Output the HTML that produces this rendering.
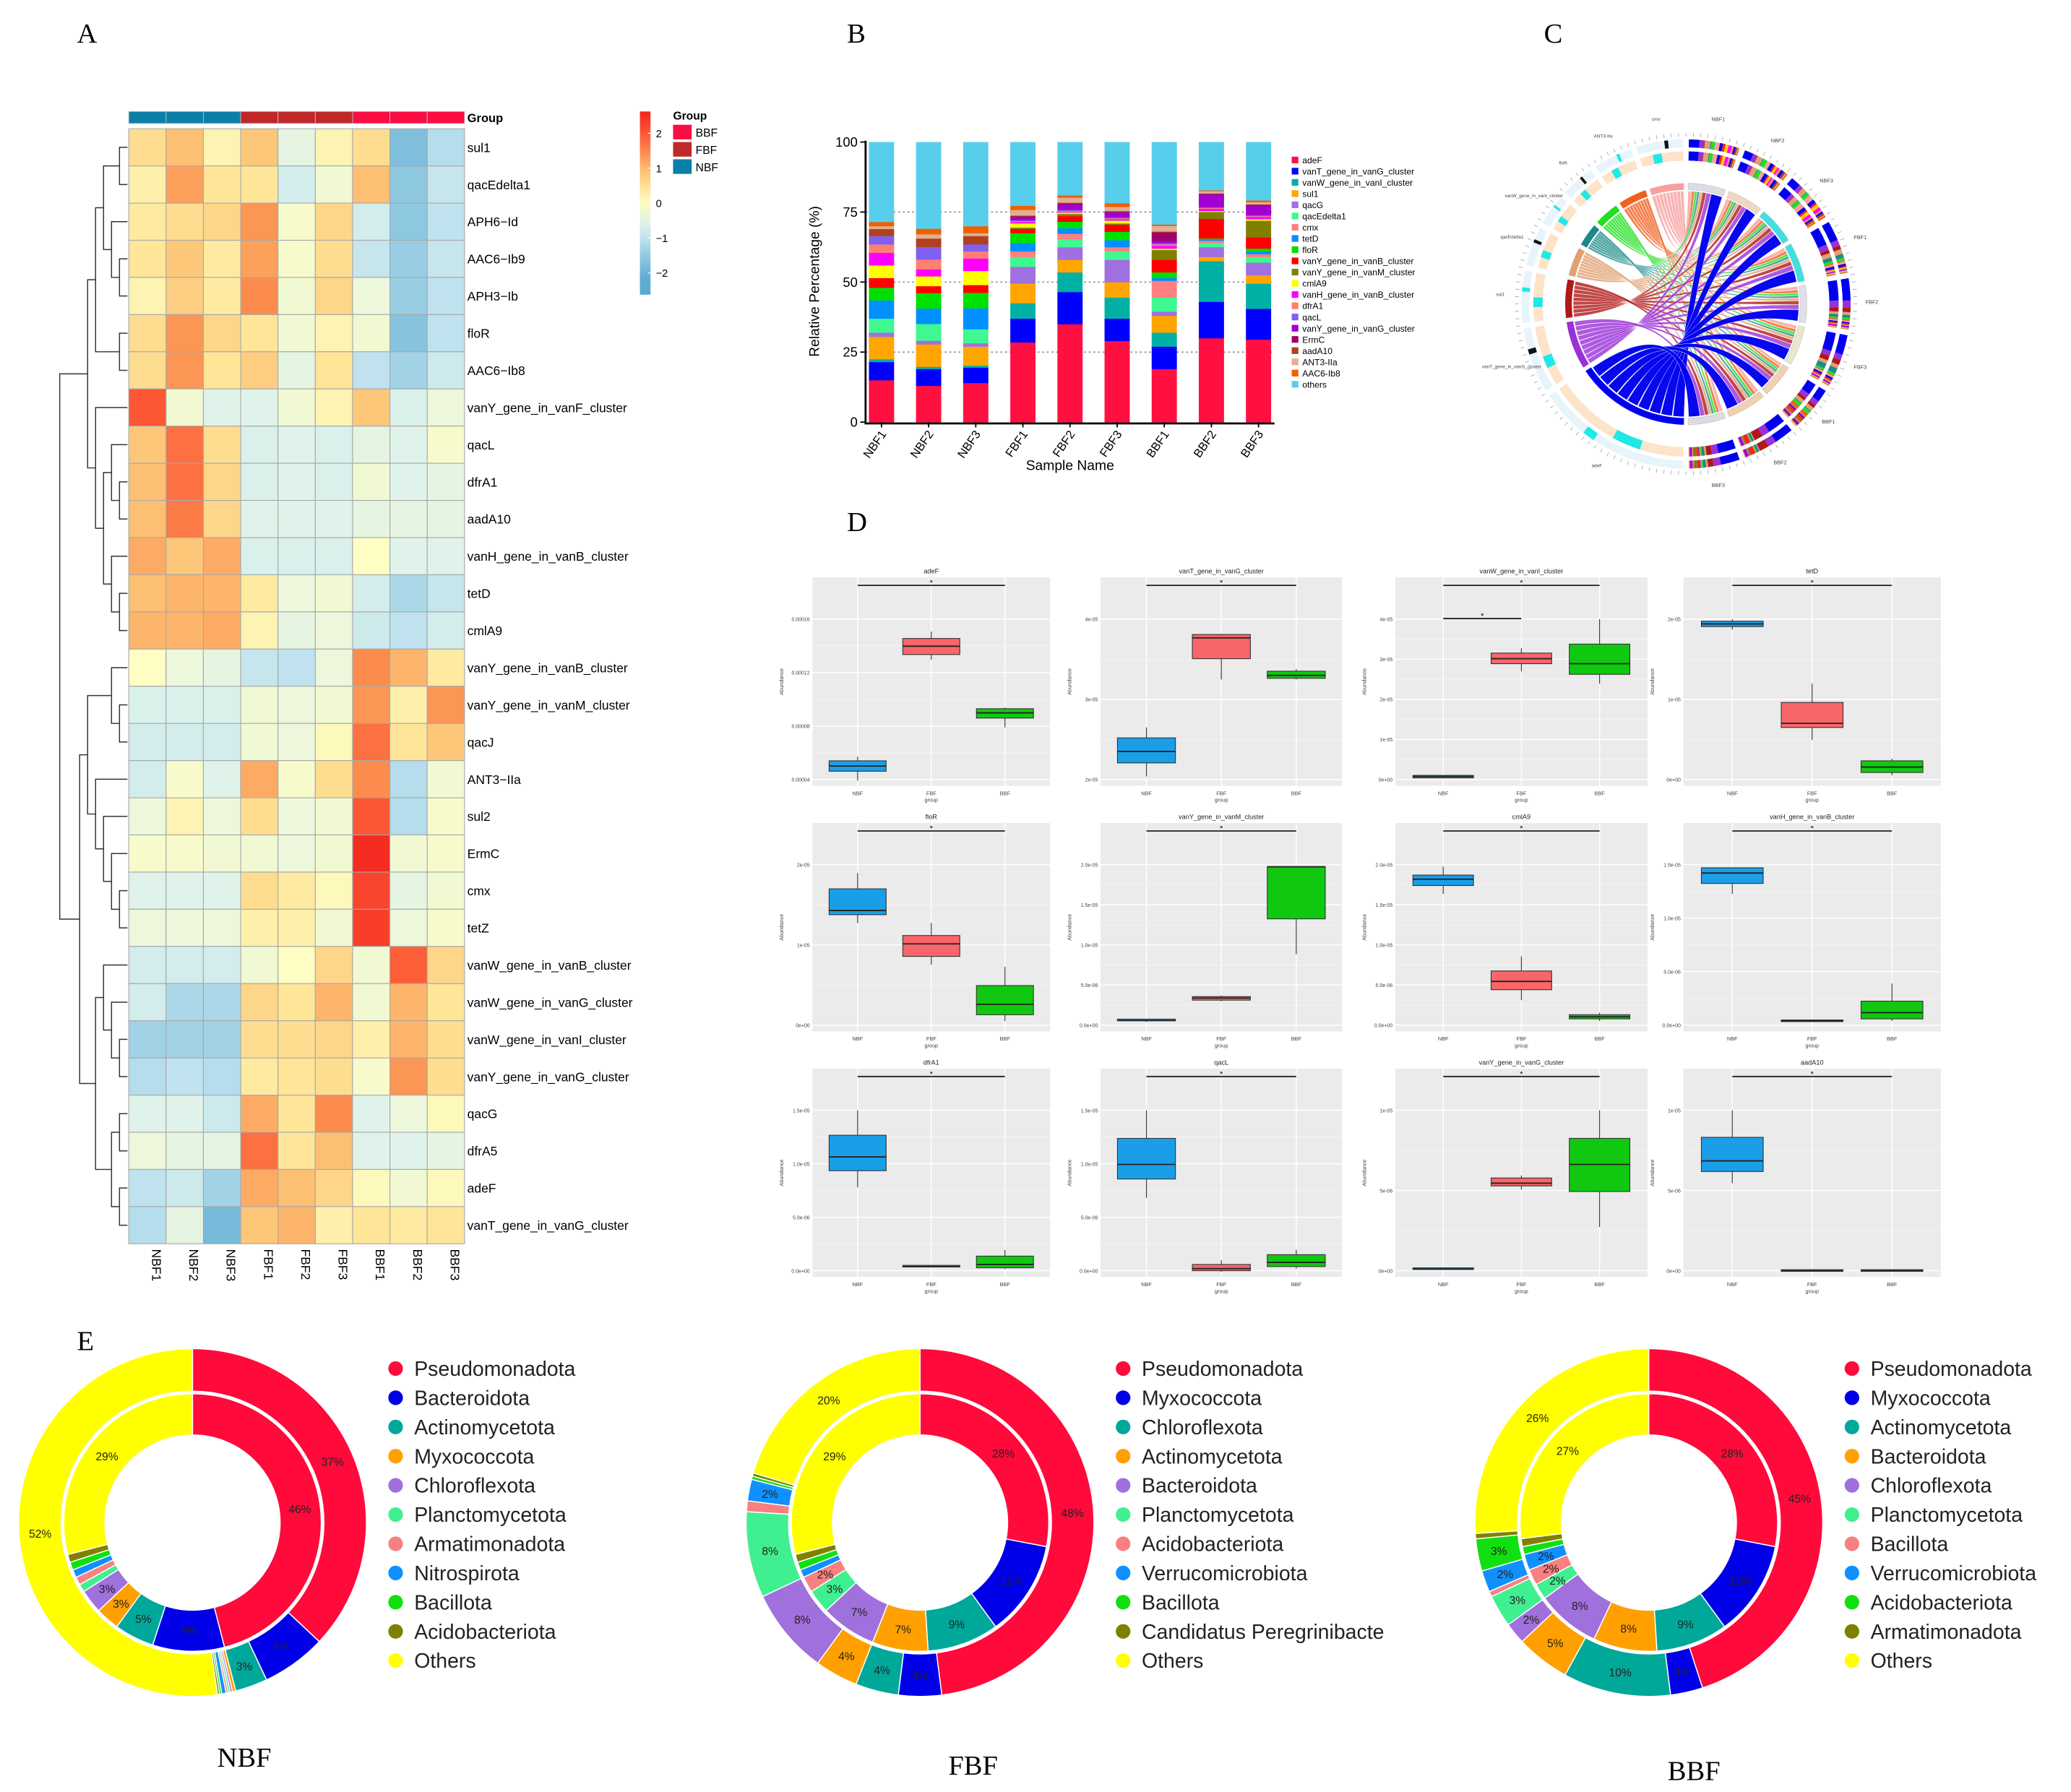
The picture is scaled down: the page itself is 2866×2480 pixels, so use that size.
<!DOCTYPE html>
<html><head><meta charset="utf-8"><title>ARG figure</title>
<style>
html,body{margin:0;padding:0;background:#fff;}
svg{display:block;font-family:"Liberation Sans",sans-serif;}
</style></head>
<body>
<svg id="fig" xmlns="http://www.w3.org/2000/svg" width="2866" height="2480" viewBox="0 0 1560 1350" preserveAspectRatio="none">
<rect x="0" y="0" width="1560" height="1350" fill="#fff"/>
<text x="58" y="32" font-family="Liberation Serif,serif" font-size="21">A</text>
<text x="638" y="32" font-family="Liberation Serif,serif" font-size="21">B</text>
<text x="1163" y="32" font-family="Liberation Serif,serif" font-size="21">C</text>
<text x="638" y="400" font-family="Liberation Serif,serif" font-size="21">D</text>
<text x="58" y="1017" font-family="Liberation Serif,serif" font-size="21">E</text>
<text x="184" y="1331" text-anchor="middle" font-family="Liberation Serif,serif" font-size="21">NBF</text>
<text x="733" y="1337" text-anchor="middle" font-family="Liberation Serif,serif" font-size="21">FBF</text>
<text x="1276" y="1341" text-anchor="middle" font-family="Liberation Serif,serif" font-size="21">BBF</text>
</svg>
<script>
// ===== Panel A heatmap data =====
const hmSamples = ["NBF1","NBF2","NBF3","FBF1","FBF2","FBF3","BBF1","BBF2","BBF3"];
const hmGroups = ["NBF","NBF","NBF","FBF","FBF","FBF","BBF","BBF","BBF"];
const hmGenes = ["sul1","qacEdelta1","APH6\u2212Id","AAC6\u2212Ib9","APH3\u2212Ib","floR","AAC6\u2212Ib8","vanY_gene_in_vanF_cluster","qacL","dfrA1","aadA10","vanH_gene_in_vanB_cluster","tetD","cmlA9","vanY_gene_in_vanB_cluster","vanY_gene_in_vanM_cluster","qacJ","ANT3\u2212IIa","sul2","ErmC","cmx","tetZ","vanW_gene_in_vanB_cluster","vanW_gene_in_vanG_cluster","vanW_gene_in_vanI_cluster","vanY_gene_in_vanG_cluster","qacG","dfrA5","adeF","vanT_gene_in_vanG_cluster"];
const hmValues = [
[0.6,1.0,0.2,0.9,-0.4,0.2,0.6,-1.7,-1.1],
[0.3,1.3,0.5,0.5,-0.7,-0.2,1.0,-1.5,-0.9],
[0.4,0.6,0.7,1.4,-0.1,0.7,-0.7,-1.5,-1.0],
[0.5,0.9,0.4,1.3,-0.1,0.6,-0.9,-1.4,-0.9],
[0.2,0.8,0.4,1.5,-0.2,0.7,-0.3,-1.4,-1.0],
[0.6,1.4,0.7,0.5,-0.2,0.2,-0.2,-1.6,-1.0],
[0.6,1.4,0.5,0.8,-0.4,0.5,-1.0,-1.3,-0.8],
[2.1,-0.2,-0.5,-0.5,-0.2,0.2,0.9,-0.6,-0.3],
[0.9,1.8,0.6,-0.6,-0.5,-0.6,-0.4,-0.5,-0.1],
[1.0,1.8,0.7,-0.6,-0.5,-0.6,-0.2,-0.5,-0.4],
[1.0,1.7,0.7,-0.5,-0.5,-0.5,-0.4,-0.4,-0.4],
[1.2,0.9,1.2,-0.6,-0.6,-0.6,0.0,-0.5,-0.5],
[1.0,1.1,1.1,0.4,-0.3,-0.2,-0.7,-1.2,-0.9],
[1.1,1.1,1.2,0.2,-0.4,-0.3,-0.8,-1.0,-0.7],
[0.0,-0.3,-0.4,-0.9,-1.0,-0.3,1.5,1.1,0.4],
[-0.6,-0.6,-0.6,-0.2,-0.3,-0.2,1.4,0.3,1.4],
[-0.7,-0.7,-0.7,-0.2,-0.3,0.1,1.8,0.5,0.9],
[-0.7,-0.1,-0.5,1.2,-0.1,0.6,1.5,-1.1,-0.2],
[-0.3,0.2,-0.3,0.6,-0.3,-0.2,2.1,-1.1,-0.1],
[-0.1,-0.1,-0.2,-0.2,-0.3,-0.2,2.6,-0.2,-0.1],
[-0.5,-0.5,-0.5,0.6,0.4,0.1,2.3,-0.4,-0.2],
[-0.3,-0.3,-0.3,0.3,0.3,-0.2,2.4,-0.3,-0.1],
[-0.7,-0.7,-0.7,-0.2,0.0,0.7,-0.2,2.0,0.7],
[-0.7,-1.2,-1.2,0.7,0.5,1.1,-0.2,1.1,0.5],
[-1.3,-1.3,-1.3,0.6,0.6,0.7,0.3,1.1,0.6],
[-1.1,-1.0,-1.1,0.4,0.5,0.6,-0.1,1.4,0.6],
[-0.5,-0.5,-0.8,1.2,0.5,1.5,-0.5,-0.3,0.1],
[-0.3,-0.4,-0.4,1.8,0.5,1.0,-0.5,-0.5,-0.4],
[-1.0,-0.8,-1.3,1.2,1.0,0.7,0.1,-0.2,0.1],
[-1.1,-0.4,-1.8,0.9,1.1,0.3,0.5,0.4,0.5]];
const hmTree = [[[[0,1],[2,[3,4]]],[5,6]],[7,[[8,[9,10]],[11,[12,13]]]]];
const hmTree2 = [[[14,[15,16]],[17,[18,[19,[20,21]]]]],[[22,[23,[24,25]]],[[26,27],[28,29]]]];
const hmScaleTicks = [2,1,0,-1,-2];

// ===== Panel B stacked bar data =====
const bSamples = ["NBF1","NBF2","NBF3","FBF1","FBF2","FBF3","BBF1","BBF2","BBF3"];
const bCats = ["adeF","vanT_gene_in_vanG_cluster","vanW_gene_in_vanI_cluster","sul1","qacG","qacEdelta1","cmx","tetD","floR","vanY_gene_in_vanB_cluster","vanY_gene_in_vanM_cluster","cmlA9","vanH_gene_in_vanB_cluster","dfrA1","qacL","vanY_gene_in_vanG_cluster","ErmC","aadA10","ANT3-IIa","AAC6-Ib8","others"];
const bColors = ["#ff1040","#0000ff","#00b0a4","#ffa500","#a070e0","#40f890","#ff8080","#0090ff","#00e000","#ff0000","#808000","#ffff00","#ff00ff","#ff8070","#8060f0","#a000d0","#a0006a","#b04020","#e0b090","#f06000","#57cfec"];
const bNBF1 = [15,6.5,1,8,1.5,5,0,6.5,4.5,3.5,0,4.5,4.5,3,3,0,0,2.5,1,1.5];
const bNBF2 = [13,6,0.8,8,1.3,6,0,5.5,5.5,2.5,0,3.5,2.5,3.5,4.5,0,0,3,1.5,2];
const bNBF3 = [14,5.5,0.7,6.8,1.2,5,0,7.5,5.5,2.8,0,5,4.5,2.5,2.5,0,0,3,1,2.5];
const bFBF1 = [28.5,8.5,5.5,7,6,3.5,2,3,3.5,1.5,0.5,1.5,0.5,0.3,0.3,1.2,0.2,0.3,2,1.5];
const bFBF2 = [35,11.5,7,4.5,4.5,2.8,2,2,2.3,2,0.8,0.5,0.3,0.3,0.3,2,0.3,0.3,1.8,0.8];
const bFBF3 = [29,8,7.5,5.5,8,3,1.5,2.5,3,2.5,0.5,1,0.5,0.3,0.3,1.8,0.2,0.3,1.5,1.3];
const bBBF1 = [19,8,5,6,1.5,5,6,1,2,4.5,3.5,0.5,1,0.5,0.5,0.8,3,0.3,2,0.5];
const bBBF2 = [30,13,14.5,1.5,3.5,1.5,0.8,0.5,0.3,7,2.5,0.3,0.8,0.3,0.3,4.5,0.2,0.2,0.8,0.3];
const bBBF3 = [29.5,11,9,3,4.5,2,1,1,1,4,6,0.5,0.8,0.3,0.3,3.5,0.2,0.2,0.8,0.6];
const bTicks = [0,25,50,75,100];

// ===== Panel C chord data =====
const cGenes = ["adeF","vanT_gene_in_vanG_cluster","sul1","qacEdelta1","vanW_gene_in_vanI_cluster","floR","ANT3-IIa","cmx"];
const cGeneVals = [60,25,20,15,12,13,15,18];
const cGeneColors = ["#0000ee","#9a30d8","#b01818","#e0a070","#1a8a8a","#20e020","#f06020","#f8a0a0"];
const cSamples = ["NBF1","NBF2","NBF3","FBF1","FBF2","FBF3","BBF1","BBF2","BBF3"];
const cSampleVals = [20,19,20,21,20,21,18,21,20];
const cSampleColors = ["#dcdce4","#f0d8c0","#40e0e0","#40e0e0","#e0e0e8","#e8e8d0","#f0d0b0","#f0d0b0","#dcdce0"];
const cTrackColors = ["#0000ee","#9a30d8","#b01818","#e0a070","#1a8a8a","#20e020","#f06020","#f8a0a0","#0000ee","#ff2020","#808000","#ffd000","#ff00ff","#ff8070","#0000ee","#a000d0","#a0006a","#b04020","#e0b090","#f06000"];

// ===== Panel D boxplot data (values in % of each panel's y range: [lo,q1,med,q3,hi]) =====
const dTitles = ["adeF","vanT_gene_in_vanG_cluster","vanW_gene_in_vanI_cluster","tetD","floR","vanY_gene_in_vanM_cluster","cmlA9","vanH_gene_in_vanB_cluster","dfrA1","qacL","vanY_gene_in_vanG_cluster","aadA10"];
const dNBF = [[2.5,7,9.5,12,14],[4.5,11,16.5,23,28],[3.8,3.8,4.5,5,5],[75,76.4,77.7,79,80],[52,56,58,68.4,76],[4.5,5,5.2,5.5,5.5],[66,70,73,75,79],[66,71,76,78.5,78.5],[43,51,57.6,68,80],[38,47,54,66.5,80],[3.5,3.5,3.8,4,4],[45,50.6,55.7,67,80]];
const dFBF = [[60.5,63,67,70.7,74],[51,61,71,72.6,73],[55,58.6,61,63.7,66],[22,28,30,40,49],[32,36,42,46,52],[14.5,15,16,16.7,17.3],[15,20,24,29,36],[4.8,4.8,5,5.1,5.2],[5,5,5,5.2,5.2],[2.5,3,4,6,8],[42,43.7,45,47.5,48.7],[3,3,3,3.1,3.1]];
const dBBF = [[28,32.5,35,37,37.6],[51,51.6,53,55,56],[49,53.5,58.6,68,80],[5,6.4,9,12,13],[5,8,13,22,31],[37,54,79,79,79],[5,6,7,8,9],[5,6,9,14.5,23],[3.8,4.4,6,10,13],[4,5,7,10.7,13],[24,41,54,66.5,80],[3,3,3,3.1,3.1]];
const dTickLabels = [["0.00004","0.00008","0.00012","0.00016"],["2e-05","3e-05","4e-05"],["0e+00","1e-05","2e-05","3e-05","4e-05"],["0e+00","1e-05","2e-05"],["0e+00","1e-05","2e-05"],["0.0e+00","5.0e-06","1.0e-05","1.5e-05","2.0e-05"],["0.0e+00","5.0e-06","1.0e-05","1.5e-05","2.0e-05"],["0.0e+00","5.0e-06","1.0e-05","1.5e-05"],["0.0e+00","5.0e-06","1.0e-05","1.5e-05"],["0.0e+00","5.0e-06","1.0e-05","1.5e-05"],["0e+00","5e-06","1e-05"],["0e+00","5e-06","1e-05"]];
const dGroups = ["NBF","FBF","BBF"];

// ===== Panel E donut data =====
const eNames1 = ["Pseudomonadota","Bacteroidota","Actinomycetota","Myxococcota","Chloroflexota","Planctomycetota","Armatimonadota","Nitrospirota","Bacillota","Acidobacteriota","Others"];
const eOuter1 = [37,6,3,0.3,0.2,0.2,0.2,0.4,0.2,0.2,52.3];
const eInner1 = [46,9,5,3,3,1,1,1,1,1,29];
const eNames2 = ["Pseudomonadota","Myxococcota","Chloroflexota","Actinomycetota","Bacteroidota","Planctomycetota","Acidobacteriota","Verrucomicrobiota","Bacillota","Candidatus Peregrinibacte","Others"];
const eOuter2 = [48,4,4,4,8,8,1,2,0.3,0.3,20.4];
const eInner2 = [28,12,9,7,7,3,2,1,1,1,29];
const eNames3 = ["Pseudomonadota","Myxococcota","Actinomycetota","Bacteroidota","Chloroflexota","Planctomycetota","Bacillota","Verrucomicrobiota","Acidobacteriota","Armatimonadota","Others"];
const eOuter3 = [45,3,10,5,2,3,0.5,2,3,0.5,26];
const eInner3 = [28,12,9,8,8,2,2,2,1,1,27];
const eColors = ["#ff0a3a","#0000e8","#00a89a","#ffa000","#a070dc","#40f090","#f88080","#1090ff","#10e010","#808000","#ffff00"];

const NS = "http://www.w3.org/2000/svg";
const S = document.getElementById("fig");
function mk(tag, attrs, parent){ const e=document.createElementNS(NS,tag); for(const k in attrs) e.setAttribute(k,attrs[k]); (parent||S).appendChild(e); return e; }
function tx(x,y,str,size,attrs,parent){ const a=Object.assign({x:x,y:y,"font-size":size},attrs||{}); const e=mk("text",a,parent); e.textContent=str; return e; }
function hex2rgb(h){return [parseInt(h.slice(1,3),16),parseInt(h.slice(3,5),16),parseInt(h.slice(5,7),16)];}

// ================= PANEL A =================
const hmStops=[[-2.2,"#5aa8d2"],[-1.5,"#8ec8e0"],[-1,"#bfe2ee"],[-0.5,"#e0f3ea"],[0,"#fdfdc4"],[0.5,"#fee598"],[1,"#fdbf72"],[1.5,"#fc8c4e"],[2,"#fd5e38"],[2.7,"#f4241e"]];
function hmColor(v){ if(v<=hmStops[0][0]) return hmStops[0][1]; for(let i=1;i<hmStops.length;i++){ if(v<=hmStops[i][0]){ const t=(v-hmStops[i-1][0])/(hmStops[i][0]-hmStops[i-1][0]); const a=hex2rgb(hmStops[i-1][1]),b=hex2rgb(hmStops[i][1]); return "rgb("+a.map((c,j)=>Math.round(c+(b[j]-c)*t)).join(",")+")"; } } return hmStops[hmStops.length-1][1]; }
const hmX0=97, hmY0=97, hmCW=28.1, hmRH=28.0;
const grpCol={NBF:"#0b7fa8",FBF:"#c0282a",BBF:"#fa0d42"};
const gA=mk("g",{});  
hmGroups.forEach((g,j)=>{ const r=mk("rect",{x:hmX0+j*hmCW,y:84,width:hmCW,height:9,fill:grpCol[g],stroke:"#bbb","stroke-width":0.5},gA);
   });
const gl=tx(352,92,"Group",9,{"font-weight":"bold"},gA);  
hmValues.forEach((row,i)=>{ row.forEach((v,j)=>{ const r=mk("rect",{x:hmX0+j*hmCW,y:hmY0+i*hmRH,width:hmCW,height:hmRH,fill:hmColor(v),stroke:"#a8a8a8","stroke-width":0.6},gA);
   });
 const t=tx(352,hmY0+i*hmRH+hmRH/2+3.5,hmGenes[i],9.5,{},gA);   });
hmSamples.forEach((s,j)=>{ const cx=hmX0+j*hmCW+hmCW/2+3.5; const t=tx(cx,hmY0+30*hmRH+4,s,9.5,{transform:"rotate(90 "+cx+" "+(hmY0+30*hmRH+4)+")"},gA);
   });
function th(n){ return Array.isArray(n)?1+Math.max(th(n[0]),th(n[1])):0; }
function drawTree(n, xRight, step){ if(!Array.isArray(n)) return {y:hmY0+n*hmRH+hmRH/2, x:xRight};
 const a=drawTree(n[0],xRight,step), b=drawTree(n[1],xRight,step); const x=xRight-th(n)*step;
 const p=mk("path",{d:"M"+a.x+","+a.y+"H"+x+"V"+b.y+"H"+b.x,fill:"none",stroke:"#333","stroke-width":0.8},gA);
  
 return {y:(a.y+b.y)/2,x:x}; }
const tA=drawTree(hmTree,96,6), tB=drawTree(hmTree2,96,6);
const rootX=45;
const rp=mk("path",{d:"M"+tA.x+","+tA.y+"H"+rootX+"V"+tB.y+"H"+tB.x,fill:"none",stroke:"#333","stroke-width":0.8},gA);
 
const grd=mk("linearGradient",{id:"hmg",x1:0,y1:1,x2:0,y2:0},mk("defs",{},gA));
for(let k=0;k<=10;k++){ const v=-2.6+k*0.53; mk("stop",{offset:(k*10)+"%","stop-color":hmColor(v)},grd); }
const cb=mk("rect",{x:482,y:84,width:8,height:138,fill:"url(#hmg)"},gA);  
function scaleY(v){ return 153 - v*26.3; }
hmScaleTicks.forEach(v=>{ const t=tx(494,scaleY(v)+3,(v<0?"\u2212":"")+Math.abs(v),8,{},gA);  
 mk("line",{x1:488,x2:490,y1:scaleY(v),y2:scaleY(v),stroke:"#fff","stroke-width":0.6},gA); });
const glt=tx(507,90,"Group",8.5,{"font-weight":"bold"},gA);  
["BBF","FBF","NBF"].forEach((g,k)=>{ const r=mk("rect",{x:507,y:94+k*13,width:14,height:11,fill:grpCol[g]},gA);  
 const t=tx(524,103+k*13,g,8.5,{},gA);   });

// ================= PANEL B =================
const gB=mk("g",{});  
const bSeries=[bNBF1,bNBF2,bNBF3,bFBF1,bFBF2,bFBF3,bBBF1,bBBF2,bBBF3];
const bY0=318, bY1=107; function bY(v){ return bY0-(bY0-bY1)*v/100; }
function bX(i){ return 664+i*35.5; }
bTicks.forEach(v=>{ if(v>0&&v<100){ const l=mk("line",{x1:652,x2:960,y1:bY(v),y2:bY(v),stroke:"#999","stroke-width":1,"stroke-dasharray":"1.5,2"},gB);   }
 const t=tx(646,bY(v)+3.5,String(v),10,{"text-anchor":"end"},gB);  
 mk("line",{x1:648,x2:652,y1:bY(v),y2:bY(v),stroke:"#000"},gB); });
bSeries.forEach((ser,i)=>{ let cum=0; const total=ser.reduce((a,b)=>a+b,0); const vals=ser.concat([100-total]);
 vals.forEach((v,k)=>{ if(v<=0) return; const r=mk("rect",{x:bX(i)-9.5,y:bY(cum+v),width:19,height:bY(cum)-bY(cum+v)+0.2,fill:bColors[k]},gB);
    cum+=v; });
 mk("line",{x1:bX(i),x2:bX(i),y1:bY0,y2:bY0+4,stroke:"#000"},gB);
 const tl=tx(bX(i)+4,bY0+9,bSamples[i],9,{"text-anchor":"end",transform:"rotate(-55 "+(bX(i)+4)+" "+(bY0+9)+")"},gB);   });
const bax=mk("path",{d:"M652,106V319H960",fill:"none",stroke:"#000","stroke-width":1.5},gB);  
const byl=tx(617,212,"Relative Percentage (%)",10.5,{"text-anchor":"middle",transform:"rotate(-90 617 212)"},gB);  
const bxl=tx(806,354,"Sample Name",10.5,{"text-anchor":"middle"},gB);  
bCats.forEach((c,k)=>{ const y=121+k*8.45; const r=mk("rect",{x:973,y:y-3,width:5,height:5,fill:bColors[k]},gB);  
 const t=tx(981,y+2,c,6.6,{},gB);   });

// ================= PANEL C =================
const gC=mk("g",{});  
const ccx=1270, ccy=229, cR=88;
function pol(a,r){ const t=a*Math.PI/180; return [ccx+r*Math.sin(t), ccy-r*Math.cos(t)]; }
function arcPath(a0,a1,r0,r1){ const p0=pol(a0,r1),p1=pol(a1,r1),p2=pol(a1,r0),p3=pol(a0,r0); const lg=(a1-a0)>180?1:0;
 return "M"+p0+"A"+r1+","+r1+" 0 "+lg+" 1 "+p1+"L"+p2+"A"+r0+","+r0+" 0 "+lg+" 0 "+p3+"Z"; }
const gGap=2; const gSum=cGeneVals.reduce((a,b)=>a+b,0); const gScale=(180-gGap*cGenes.length)/gSum;
const geneArcs=[]; let ga=181;
cGeneVals.forEach((v,i)=>{ const a0=ga, a1=ga+v*gScale; geneArcs.push([a0,a1]); ga=a1+gGap; });
const sSum=cSampleVals.reduce((a,b)=>a+b,0); const sScale=(180-gGap*cSamples.length)/sSum;
const sampArcs=[]; let sa=1;
cSampleVals.forEach(v=>{ const a0=sa,a1=sa+v*sScale; sampArcs.push([a0,a1]); sa=a1+gGap; });
const sampleCursor=sampArcs.map(a=>a[0]);
const order=[7,6,5,4,3,2,1,0];
order.forEach(gi=>{ const [g0,g1]=geneArcs[gi]; const gw=(g1-g0)/cSamples.length;
 cSamples.forEach((s,si)=>{ const sw=(sampArcs[si][1]-sampArcs[si][0])*cGeneVals[gi]/gSum;
  const a0=g0+si*gw, a1=a0+gw*0.92; const b0=sampleCursor[si], b1=b0+sw*0.95; sampleCursor[si]+=sw;
  const p0=pol(a0,cR-3),p1=pol(a1,cR-3),q0=pol(b0,cR-3),q1=pol(b1,cR-3);
  const d="M"+p0+"A"+(cR-3)+","+(cR-3)+" 0 0 1 "+p1+"Q"+ccx+","+ccy+" "+q0+"A"+(cR-3)+","+(cR-3)+" 0 0 1 "+q1+"Q"+ccx+","+ccy+" "+p0+"Z";
  const r=mk("path",{d:d,fill:cGeneColors[gi],"fill-opacity":gi===0?0.97:0.8,stroke:"#fff","stroke-width":0.25},gC);
    }); });
geneArcs.forEach(([a0,a1],i)=>{ const r=mk("path",{d:arcPath(a0,a1,cR-2,cR+3),fill:cGeneColors[i]},gC);  
 const o1=mk("path",{d:arcPath(a0,a1,cR+20,cR+27),fill:"#fde3c8"},gC);  
 const o2=mk("path",{d:arcPath(a0,a1,cR+30,cR+36),fill:"#e8f4fb"},gC);  
 const cyan=mk("path",{d:arcPath(a0+(a1-a0)*0.3,a0+(a1-a0)*0.5,cR+20,cR+27),fill:"#20e8e8"},gC);  
 const blk=mk("path",{d:arcPath(a0+(a1-a0)*0.6,a0+(a1-a0)*0.68,cR+30,cR+36),fill:i%2?"#111":"#20e8e8"},gC);  
 const lm=pol((a0+a1)/2,cR+52); const lt=tx(lm[0],lm[1],cGenes[i],3.5,{"text-anchor":"middle",fill:"#444"},gC);   });
sampArcs.forEach(([a0,a1],i)=>{ const r=mk("path",{d:arcPath(a0,a1,cR-2,cR+3),fill:cSampleColors[i],stroke:"#bbb","stroke-width":0.3},gC);  
 [[cR+20,cR+27],[cR+30,cR+36]].forEach(([r0,r1])=>{ let cum=0; const ser=bSeries[i]; const tot=ser.reduce((a,b)=>a+b,0);
  ser.forEach((v,k)=>{ if(v<=0) return; const b0=a0+(a1-a0)*cum/tot, b1=a0+(a1-a0)*(cum+v)/tot; cum+=v;
   const seg=mk("path",{d:arcPath(b0,b1,r0,r1),fill:cTrackColors[k]},gC);   }); });
 const lm=pol((a0+a1)/2,cR+52); const lt=tx(lm[0],lm[1],cSamples[i],4,{"text-anchor":"middle",fill:"#444"},gC);   });
for(let a=0;a<360;a+=2.5){ const p0=pol(a,cR+38),p1=pol(a,cR+41); const l=mk("line",{x1:p0[0],y1:p0[1],x2:p1[0],y2:p1[1],stroke:"#999","stroke-width":0.4},gC);   }

// ================= PANEL D =================
const dColX=[612,829,1051,1268], dColW=[179,182,190,194], dRowY=[435,620,805], dH=157;
const dCols=["#1a9ee8","#f8666a","#10c810"];
dTitles.forEach((title,p)=>{ const x0=dColX[p%4], w=dColW[p%4], y0=dRowY[Math.floor(p/4)];
 const g=mk("g",{});  
 const bg=mk("rect",{x:x0,y:y0,width:w,height:dH,fill:"#ebebeb"},g);  
 function yv(v){ return y0+dH-dH*v/100; }
 const labs=dTickLabels[p]; const n=labs.length;
 labs.forEach((lab,k)=>{ const v=3+k*(77/(n-1)); const y=yv(v);
  mk("line",{x1:x0,x2:x0+w,y1:y,y2:y,stroke:"#fff","stroke-width":0.8},g);
  if(k<n-1) mk("line",{x1:x0,x2:x0+w,y1:yv(v+77/(n-1)/2),y2:yv(v+77/(n-1)/2),stroke:"#f6f6f6","stroke-width":0.5},g);
  const t=tx(x0-2,y+1.5,lab,3.8,{"text-anchor":"end",fill:"#444"},g);   });
 const gx=[x0+w*0.19,x0+w*0.5,x0+w*0.81]; const bw=w*0.24;
 gx.forEach((x,k)=>{ mk("line",{x1:x,x2:x,y1:y0,y2:y0+dH,stroke:"#fff","stroke-width":0.8},g);
  const t=tx(x,y0+dH+7,dGroups[k],4,{"text-anchor":"middle",fill:"#444"},g);   });
 const gt=tx(x0+w/2,y0+dH+12,"group",4,{"text-anchor":"middle",fill:"#444"},g);  
 const yt=tx(x0-22,y0+dH/2,"Abundance",4,{"text-anchor":"middle",fill:"#444",transform:"rotate(-90 "+(x0-22)+" "+(y0+dH/2)+")"},g);  
 const tt=tx(x0+w/2,y0-3,title,5,{"text-anchor":"middle",fill:"#222"},g);  
 [dNBF[p],dFBF[p],dBBF[p]].forEach((s,k)=>{ const x=gx[k];
  const wl=mk("line",{x1:x,x2:x,y1:yv(s[0]),y2:yv(s[4]),stroke:"#333","stroke-width":0.6},g);  
  const bh=Math.max(yv(s[1])-yv(s[3]),1.2);
  const bx=mk("rect",{x:x-bw/2,y:yv(s[3])-(bh>1.2?0:0.6),width:bw,height:bh,fill:dCols[k],stroke:"#333","stroke-width":0.6},g);  
  const md=mk("line",{x1:x-bw/2,x2:x+bw/2,y1:yv(s[2]),y2:yv(s[2]),stroke:"#222","stroke-width":1},g);   });
 const sb=mk("line",{x1:gx[0],x2:gx[2],y1:y0+6,y2:y0+6,stroke:"#222","stroke-width":1},g);  
 const st=tx(gx[1],y0+6,"*",6,{"text-anchor":"middle"},g);  
 if(p===2){ const sb2=mk("line",{x1:gx[0],x2:gx[1],y1:y0+31,y2:y0+31,stroke:"#222","stroke-width":1},g);  
  const s2=tx((gx[0]+gx[1])/2,y0+31,"*",6,{"text-anchor":"middle"},g);   }
});

// ================= PANEL E =================
function donut(cx,cy,outer,inner,names,legX,tag){
 const g=mk("g",{});  
 const rO=131,rM=98,rH=66;
 function ring(vals,r0,r1,ringName){ let cum=0; const tot=vals.reduce((a,b)=>a+b,0);
  vals.forEach((v,k)=>{ const a0=cum/tot*360, a1=(cum+v)/tot*360; cum+=v;
   const t0=a0*Math.PI/180,t1=a1*Math.PI/180; const lg=(a1-a0)>180?1:0;
   const P=(t,r)=>[cx+r*Math.sin(t),cy-r*Math.cos(t)];
   const d="M"+P(t0,r1)+"A"+r1+","+r1+" 0 "+lg+" 1 "+P(t1,r1)+"L"+P(t1,r0)+"A"+r0+","+r0+" 0 "+lg+" 0 "+P(t0,r0)+"Z";
   const s=mk("path",{d:d,fill:eColors[k],stroke:"#fff","stroke-width":0.8},g);
    
   if(v>=2){ const m=(t0+t1)/2; const pm=P(m,(r0+r1)/2); const l=tx(pm[0],pm[1]+3,Math.round(v)+"%",8.5,{"text-anchor":"middle",fill:"#222"},g);
      } }); }
 ring(outer,rM+1,rO,"outer"); ring(inner,rH,rM-1,"inner");
 names.forEach((nm,k)=>{ const y=1031+k*22; const c=mk("circle",{cx:legX,cy:y,r:5.5,fill:eColors[k]},g);  
  const t=tx(legX+14,y+5.5,nm,15.5,{fill:"#222"},g);   });
}
donut(145,1147,eOuter1,eInner1,eNames1,298,"nbf");
donut(693,1147,eOuter2,eInner2,eNames2,846,"fbf");
donut(1242,1147,eOuter3,eInner3,eNames3,1395,"bbf");
</script>
</body></html>
